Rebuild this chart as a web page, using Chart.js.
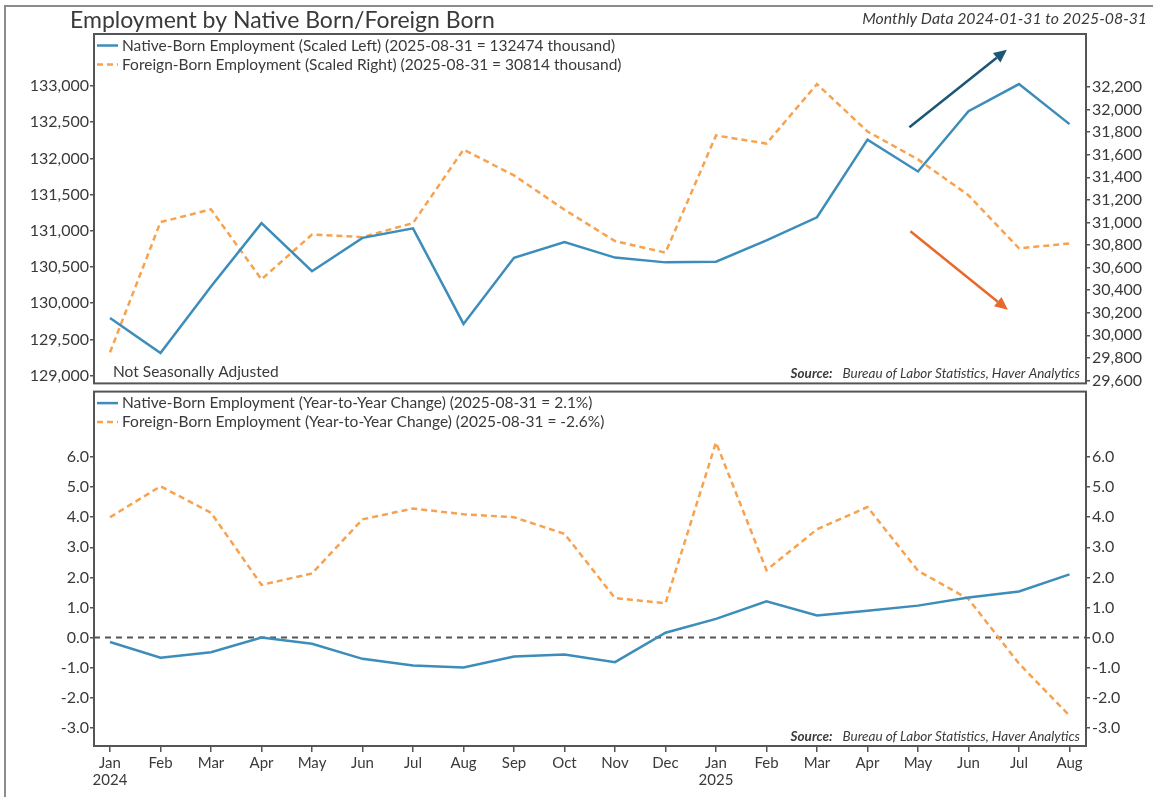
<!DOCTYPE html>
<html>
<head>
<meta charset="utf-8">
<script src="https://cdn.jsdelivr.net/npm/chart.js@4.4.1/dist/chart.umd.min.js"></script>
<style>
  body { margin: 0; background: #fff; }
  #wrap { position: relative; width: 1153px; height: 797px; overflow: hidden; }
  #wrap canvas { position: absolute; left: 0; }
  #frame { position: absolute; left: 4px; top: 5px; width: 1200px; height: 900px;
           border-left: 2px solid #8c8c8c; border-top: 2px solid #8c8c8c; }
</style>
</head>
<body>
<div id="wrap">
  <div id="frame"></div>
  <canvas id="topChart" width="1153" height="395" style="top:0"></canvas>
  <canvas id="bottomChart" width="1153" height="417" style="top:380px"></canvas>
</div>
<script>
// months Jan 2024 .. Aug 2025
const monthLabels = ['Jan','Feb','Mar','Apr','May','Jun','Jul','Aug','Sep','Oct','Nov','Dec',
                     'Jan','Feb','Mar','Apr','May','Jun','Jul','Aug'];
const yearLabels = ['2024','','','','','','','','','','','','2025','','','','','','',''];

// employment levels, thousands
const nativeLevel = [129796, 129312, 130230, 131106, 130442, 130903, 131034, 129714, 130627, 130844,
                     130630, 130564, 130573, 130867, 131187, 132259, 131820, 132652, 133027, 132474];
const foreignLevel = [29849, 31003, 31116, 30496, 30893, 30870, 30995, 31646, 31417, 31113,
                      30835, 30733, 31771, 31699, 32226, 31806, 31559, 31241, 30771, 30814];

// year-to-year change, %
const nativeYoY = [-0.15, -0.67, -0.49, 0.0, -0.21, -0.71, -0.93, -1.0, -0.63, -0.57,
                   -0.82, 0.16, 0.62, 1.2, 0.73, 0.89, 1.06, 1.33, 1.53, 2.1];
const foreignYoY = [4.0, 5.03, 4.15, 1.75, 2.13, 3.93, 4.29, 4.1, 4.0, 3.45,
                    1.31, 1.14, 6.49, 2.24, 3.6, 4.34, 2.22, 1.28, -0.87, -2.6];

// tick values
const levelLeftTicks = [129000, 129500, 130000, 130500, 131000, 131500, 132000, 132500, 133000];
const levelRightTicks = [29600, 29800, 30000, 30200, 30400, 30600, 30800, 31000, 31200, 31400,
                         31600, 31800, 32000, 32200];
const yoyTicks = [-3, -2, -1, 0, 1, 2, 3, 4, 5, 6];

const BLUE = '#3d8dba';
const ORANGE = '#f7a24e';
const TEXT = '#3a3a3a';
const FONT = 'Lato';

Chart.defaults.font.family = FONT;
Chart.defaults.color = TEXT;

const xs = arr => arr.map((v, i) => ({ x: i, y: v }));

function yAxis(position, min, max, ticks, fmt, width) {
  return {
    type: 'linear', position, min, max,
    afterBuildTicks: axis => { axis.ticks = ticks.map(v => ({ value: v })); },
    afterFit: axis => { axis.width = width; },
    border: { display: false },
    grid: { drawOnChartArea: false, tickLength: 4, tickColor: '#555', lineWidth: 1.5 },
    ticks: { color: TEXT, font: { size: 16 }, padding: position === 'left' ? 1 : 2, callback: fmt }
  };
}

const xRange = { min: -0.317, max: 19.327 };

// frame around the plot area, legend rows, source note
function panelPlugin(legendRows, extra) {
  return {
    id: 'panel',
    afterDraw(chart) {
      const { ctx, chartArea: a } = chart;
      ctx.save();
      ctx.strokeStyle = '#555';
      ctx.lineWidth = 2;
      ctx.strokeRect(a.left, a.top, a.right - a.left, a.bottom - a.top);

      ctx.font = '15.5px ' + FONT;
      ctx.textBaseline = 'middle';
      legendRows.forEach((r, i) => {
        const y = a.top + 11.5 + i * 19;
        ctx.strokeStyle = r.color;
        ctx.lineWidth = 2.5;
        ctx.setLineDash(r.dash);
        ctx.beginPath();
        ctx.moveTo(a.left + 3, y);
        ctx.lineTo(a.left + 24, y);
        ctx.stroke();
        ctx.setLineDash([]);
        ctx.fillStyle = TEXT;
        ctx.textAlign = 'left';
        ctx.fillText(r.text, a.left + 28, y);
      });

      // source
      const rest = 'Bureau of Labor Statistics, Haver Analytics';
      ctx.textAlign = 'right';
      ctx.textBaseline = 'alphabetic';
      ctx.font = 'italic 13.5px ' + FONT;
      const rx = a.right - 6, ry = a.bottom - 5;
      ctx.fillText(rest, rx, ry);
      const w = ctx.measureText(rest).width;
      ctx.font = 'italic bold 13.5px ' + FONT;
      ctx.fillText('Source:', rx - w - 10, ry);

      if (extra) extra(chart);
      ctx.restore();
    }
  };
}

// trend arrows on the upper panel (in data units)
const arrows = [
  { from: [15.83, 132430], to: [17.76, 133502], color: '#1b5676' },
  { from: [15.85, 130993], to: [17.78, 129908], color: '#e8692c' }
];

const arrowPlugin = {
  id: 'arrows',
  afterDatasetsDraw(chart) {
    const { ctx, scales: { x, yL } } = chart;
    arrows.forEach(a => {
      const x0 = x.getPixelForValue(a.from[0]), y0 = yL.getPixelForValue(a.from[1]);
      const x1 = x.getPixelForValue(a.to[0]), y1 = yL.getPixelForValue(a.to[1]);
      const ang = Math.atan2(y1 - y0, x1 - x0);
      const L = 13, H = 6;
      const bx = x1 - L * Math.cos(ang), by = y1 - L * Math.sin(ang);
      ctx.save();
      ctx.strokeStyle = a.color;
      ctx.fillStyle = a.color;
      ctx.lineWidth = 2.5;
      ctx.beginPath();
      ctx.moveTo(x0, y0);
      ctx.lineTo(bx, by);
      ctx.stroke();
      ctx.beginPath();
      ctx.moveTo(x1, y1);
      ctx.lineTo(bx + H * Math.sin(ang), by - H * Math.cos(ang));
      ctx.lineTo(bx - H * Math.sin(ang), by + H * Math.cos(ang));
      ctx.closePath();
      ctx.fill();
      ctx.restore();
    });
  }
};

const zeroLine = {
  id: 'zeroLine',
  beforeDatasetsDraw(chart) {
    const { ctx, chartArea: a, scales: { yL } } = chart;
    const y = yL.getPixelForValue(0);
    ctx.save();
    ctx.strokeStyle = '#555';
    ctx.lineWidth = 2;
    ctx.setLineDash([6, 5]);
    ctx.beginPath();
    ctx.moveTo(a.left, y);
    ctx.lineTo(a.right, y);
    ctx.stroke();
    ctx.restore();
  }
};

const baseOptions = {
  responsive: false,
  animation: false,
  devicePixelRatio: 1,
  plugins: { legend: { display: false }, tooltip: { enabled: false } },
  elements: { point: { radius: 0 }, line: { tension: 0, borderWidth: 2.5 } }
};

const comma = v => v.toLocaleString('en-US');
const oneDec = v => v.toFixed(1);

// upper panel: levels
new Chart(document.getElementById('topChart'), {
  type: 'line',
  data: {
    datasets: [
      { label: 'Native-Born Employment', data: xs(nativeLevel), yAxisID: 'yL',
        borderColor: BLUE, order: 1 },
      { label: 'Foreign-Born Employment', data: xs(foreignLevel), yAxisID: 'yR',
        borderColor: ORANGE, borderDash: [6, 4], order: 2 }
    ]
  },
  options: {
    ...baseOptions,
    layout: { padding: { top: 34, bottom: 5, left: 0, right: 0 } },
    scales: {
      x: { type: 'linear', ...xRange, display: false },
      yL: yAxis('left', 128892, 133719, levelLeftTicks, comma, 94),
      yR: yAxis('right', 29574, 32670, levelRightTicks, comma, 67)
    }
  },
  plugins: [arrowPlugin, panelPlugin([
    { text: 'Native-Born Employment (Scaled Left) (2025-08-31 = 132474 thousand)', color: BLUE, dash: [] },
    { text: 'Foreign-Born Employment (Scaled Right) (2025-08-31 = 30814 thousand)', color: ORANGE, dash: [6, 4] }
  ], chart => {
    const { ctx, chartArea: a } = chart;
    ctx.fillStyle = TEXT;
    ctx.textAlign = 'left';
    ctx.font = '15.5px ' + FONT;
    ctx.fillText('Not Seasonally Adjusted', a.left + 19, a.bottom - 6);
    ctx.font = '23px ' + FONT;
    ctx.fillText('Employment by Native Born/Foreign Born', 70, 28);
    ctx.textAlign = 'right';
    ctx.font = 'italic 15.8px ' + FONT;
    ctx.fillText('Monthly Data 2024-01-31 to 2025-08-31', 1147, 24);
  })]
});

// lower panel: year-to-year change
new Chart(document.getElementById('bottomChart'), {
  type: 'line',
  data: {
    datasets: [
      { label: 'Native-Born YoY', data: xs(nativeYoY), yAxisID: 'yL', borderColor: BLUE, order: 1 },
      { label: 'Foreign-Born YoY', data: xs(foreignYoY), yAxisID: 'yL',
        borderColor: ORANGE, borderDash: [6, 4], order: 2 }
    ]
  },
  options: {
    ...baseOptions,
    layout: { padding: { top: 10, bottom: 0, left: 0, right: 0 } },
    scales: {
      x: {
        type: 'linear', ...xRange,
        afterBuildTicks: axis => { axis.ticks = monthLabels.map((_, i) => ({ value: i })); },
        afterFit: axis => { axis.height = 51; },
        border: { display: false },
        grid: { drawOnChartArea: false, tickLength: 6, tickColor: '#555', lineWidth: 1.5 },
        ticks: {
          color: TEXT, font: { size: 15, lineHeight: 1.1 }, padding: 3, maxRotation: 0, autoSkip: false,
          callback: (v, i) => yearLabels[i] ? [monthLabels[i], yearLabels[i]] : monthLabels[i]
        }
      },
      yL: yAxis('left', -3.61, 8.18, yoyTicks, oneDec, 94),
      yR: yAxis('right', -3.61, 8.18, yoyTicks, oneDec, 67)
    }
  },
  plugins: [zeroLine, panelPlugin([
    { text: 'Native-Born Employment (Year-to-Year Change) (2025-08-31 = 2.1%)', color: BLUE, dash: [] },
    { text: 'Foreign-Born Employment (Year-to-Year Change) (2025-08-31 = -2.6%)', color: ORANGE, dash: [6, 4] }
  ])]
});
</script>
</body>
</html>
